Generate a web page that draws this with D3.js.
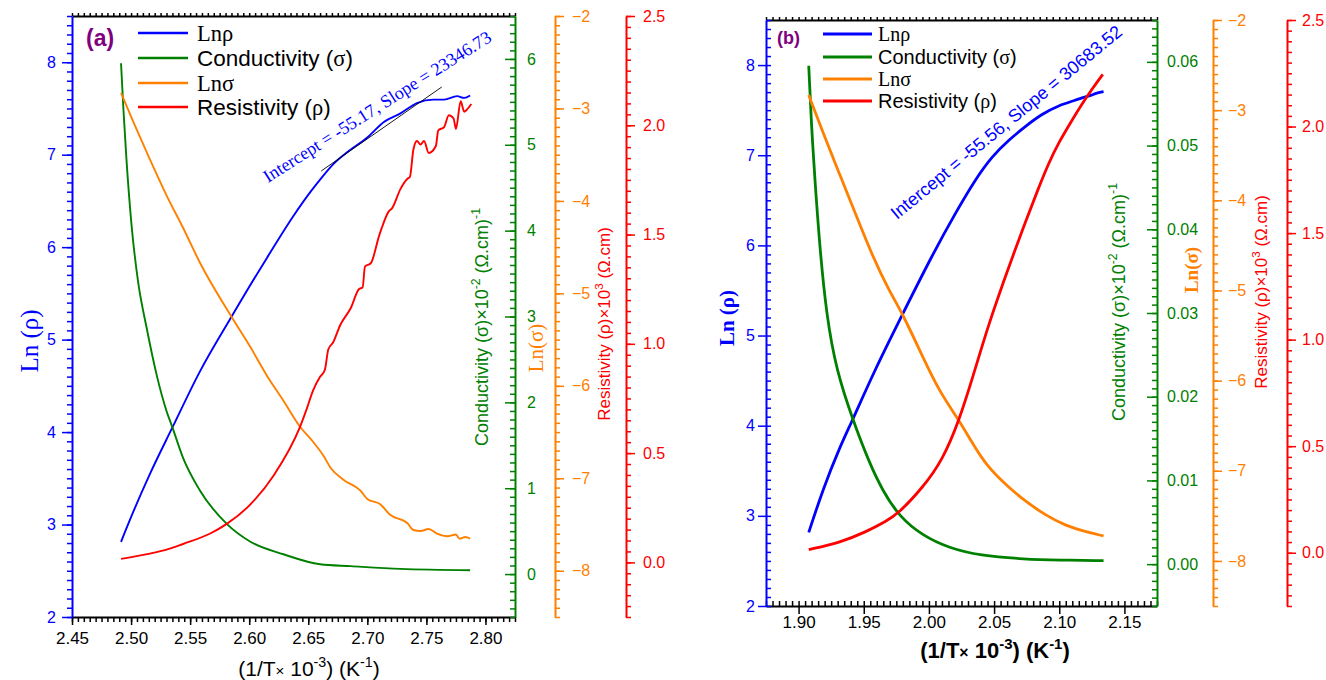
<!DOCTYPE html>
<html>
<head>
<meta charset="utf-8">
<script src="https://cdnjs.cloudflare.com/ajax/libs/d3/7.8.5/d3.min.js"></script>
<style>
  body { margin: 0; background: #fff; }
  svg { display: block; }
</style>
</head>
<body>
<svg id="chart" width="1326" height="680"></svg>
<script>
// ---------------- Panel (a) data ----------------
const aLnRhoX = [2.4915, 2.502, 2.516, 2.535, 2.558, 2.585, 2.615, 2.638, 2.652, 2.660, 2.671, 2.686, 2.700, 2.714, 2.728, 2.742, 2.756, 2.765, 2.776, 2.782, 2.787];
const aLnRhoY = [2.813, 3.142, 3.548, 4.050, 4.649, 5.247, 5.884, 6.348, 6.600, 6.730, 6.895, 7.056, 7.186, 7.354, 7.447, 7.559, 7.596, 7.596, 7.633, 7.614, 7.640];

const aSigmaX = [2.4915, 2.4935, 2.496, 2.5005, 2.506, 2.513, 2.522, 2.530, 2.535, 2.544, 2.558, 2.581, 2.601, 2.629, 2.660, 2.686, 2.728, 2.787];
const aSigmaY = [5.950, 5.420, 4.850, 4.050, 3.400, 2.880, 2.300, 1.900, 1.708, 1.354, 0.980, 0.585, 0.377, 0.231, 0.114, 0.092, 0.060, 0.044];

const aLnSigmaX = [2.4915, 2.502, 2.516, 2.530, 2.544, 2.558, 2.585, 2.601, 2.615, 2.629, 2.643, 2.652, 2.663, 2.669, 2.680, 2.694, 2.700, 2.711, 2.719, 2.734, 2.739, 2.745, 2.752, 2.759, 2.768, 2.775, 2.778, 2.783, 2.787];
const aLnSigmaY = [-2.832, -3.148, -3.553, -3.940, -4.290, -4.660, -5.253, -5.581, -5.890, -6.161, -6.442, -6.573, -6.759, -6.889, -7.018, -7.131, -7.224, -7.280, -7.392, -7.486, -7.559, -7.570, -7.548, -7.597, -7.626, -7.608, -7.652, -7.635, -7.652];

const aRhoX = [2.4915, 2.516, 2.530, 2.544, 2.567, 2.581, 2.601, 2.621, 2.643, 2.649, 2.654, 2.660, 2.664, 2.667, 2.671, 2.677, 2.686, 2.693, 2.696, 2.698, 2.703, 2.710, 2.712, 2.718, 2.721, 2.728, 2.734, 2.736, 2.739, 2.742, 2.745, 2.748, 2.752, 2.758, 2.760, 2.765, 2.769, 2.773, 2.775, 2.779, 2.782, 2.784, 2.788];
const aRhoY = [0.016, 0.040, 0.058, 0.084, 0.132, 0.176, 0.265, 0.400, 0.620, 0.707, 0.786, 0.849, 0.880, 0.975, 1.006, 1.085, 1.164, 1.251, 1.258, 1.353, 1.369, 1.495, 1.527, 1.605, 1.621, 1.708, 1.755, 1.763, 1.889, 1.928, 1.912, 1.928, 1.873, 1.905, 1.976, 1.992, 2.046, 2.031, 1.983, 2.110, 2.062, 2.070, 2.097];

// linear fit segment over the high-x part of Lnρ
const aFitX = [2.661, 2.763];
const aFitY = [6.824, 7.732];

// ---------------- Panel (b) data ----------------
const bLnRhoX = [1.9078, 1.9188, 1.9315, 1.9417, 1.957, 1.9799, 2.0028, 2.0207, 2.036, 2.0486, 2.0614, 2.0742, 2.0868, 2.0996, 2.1124, 2.120, 2.125, 2.1276, 2.134];
const bLnRhoY = [2.816, 3.300, 3.760, 4.070, 4.574, 5.241, 5.900, 6.368, 6.740, 6.990, 7.170, 7.323, 7.458, 7.553, 7.610, 7.648, 7.667, 7.686, 7.705];

const bSigmaX = [1.9078, 1.9099, 1.9124, 1.9162, 1.9214, 1.929, 1.9417, 1.9545, 1.9646, 1.9774, 1.9952, 2.0156, 2.0385, 2.0742, 2.0996, 2.134];
const bSigmaY = [0.05953, 0.05233, 0.04617, 0.03794, 0.02971, 0.02313, 0.01717, 0.01202, 0.00874, 0.00566, 0.00339, 0.00192, 0.00103, 0.00058, 0.00049, 0.00041];

const bLnSigmaX = [1.9078, 1.9188, 1.9315, 1.9443, 1.957, 1.9697, 1.9799, 1.9952, 2.0079, 2.0232, 2.0308, 2.0436, 2.0614, 2.0742, 2.0894, 2.1047, 2.120, 2.134];
const bLnSigmaY = [-2.833, -3.253, -3.712, -4.170, -4.629, -5.011, -5.259, -5.736, -6.118, -6.443, -6.630, -6.940, -7.188, -7.340, -7.493, -7.608, -7.676, -7.723];

const bRhoX = [1.9078, 1.9315, 1.9519, 1.9672, 1.9762, 1.9952, 2.0105, 2.0232, 2.0334, 2.041, 2.0486, 2.0563, 2.0639, 2.0742, 2.0843, 2.092, 2.0996, 2.1098, 2.1174, 2.125, 2.1334];
const bRhoY = [0.0148, 0.047, 0.098, 0.148, 0.182, 0.305, 0.435, 0.621, 0.820, 0.975, 1.120, 1.255, 1.385, 1.555, 1.715, 1.830, 1.925, 2.030, 2.105, 2.175, 2.245];

// ---------------- Tick values ----------------
const aXTicks = [2.45, 2.50, 2.55, 2.60, 2.65, 2.70, 2.75, 2.80];
const bXTicks = [1.90, 1.95, 2.00, 2.05, 2.10, 2.15];
const lnTicks = [2, 3, 4, 5, 6, 7, 8];
const aSigmaTicks = [0, 1, 2, 3, 4, 5, 6];
const bSigmaTicks = [0.00, 0.01, 0.02, 0.03, 0.04, 0.05, 0.06];
const lnSigmaTicks = [-8, -7, -6, -5, -4, -3, -2];
const rhoTicks = [0.0, 0.5, 1.0, 1.5, 2.0, 2.5];

const legendLabels = [
  [{ t: "Ln", serif: true }, { t: "ρ", serif: true }],
  [{ t: "Conductivity (" }, { t: "σ", serif: true }, { t: ")" }],
  [{ t: "Ln", serif: true }, { t: "σ", serif: true }],
  [{ t: "Resistivity (" }, { t: "ρ", serif: true }, { t: ")" }]
];

// ---------------- Styling ----------------
const SANS = "'Liberation Sans', Arial, Helvetica, sans-serif";
const SERIF = "'Liberation Serif', 'Times New Roman', Times, serif";
const COL = { blue: "#0000ff", green: "#008000", orange: "#ff8000", red: "#ff0000", purple: "#800080" };

const svg = d3.select("#chart");

function minorRange(lo, hi, step) {
  const n = Math.round((hi - lo) / step);
  return d3.range(n + 1).map(i => +(lo + i * step).toFixed(6));
}

// text built from runs (serif glyphs, superscripts, small signs)
function rich(g, parts, o) {
  const t = g.append("text")
    .attr("transform", `translate(${o.x},${o.y}) rotate(${o.rotate || 0})`)
    .attr("text-anchor", o.anchor || "start")
    .attr("fill", o.color)
    .attr("font-size", o.size)
    .attr("font-weight", o.weight || "normal")
    .attr("font-family", o.family || SANS);
  let shift = 0;
  parts.forEach(p => {
    const s = t.append("tspan").text(p.t);
    if (p.serif) s.attr("font-family", SERIF);
    if (p.sup) s.attr("font-size", o.size * 0.68);
    if (p.small) s.attr("font-size", o.size * 0.72);
    const target = p.sup ? -0.42 * o.size : 0;
    if (target !== shift) { s.attr("dy", target - shift); shift = target; }
  });
  return t;
}

function styleAxis(a, color, fs, domainW, keepDomain) {
  a.attr("color", color).attr("font-family", SANS).attr("font-size", fs);
  if (keepDomain) a.select(".domain").attr("stroke-width", domainW);
  else a.select(".domain").remove();
  a.selectAll(".tick line").attr("stroke-width", 1.5);
  return a;
}

function drawPanel(P) {
  const g = svg.append("g");
  const x = d3.scaleLinear().domain(P.xDomain).range([P.left, P.right]);
  const yLn = d3.scaleLinear().domain([2, 8.5]).range([P.bottom, P.top]);
  const ySig = d3.scaleLinear().domain(P.sigmaDomain).range([P.bottom, P.top]);
  const yLnSig = d3.scaleLinear().domain([-8.5, -2]).range([P.bottom, P.top]);
  const yRho = d3.scaleLinear().domain([-0.25, 2.5]).range([P.bottom, P.top]);
  const YFS = 16, XFS = 17;

  // top frame line with small ticks
  styleAxis(g.append("g").attr("transform", `translate(0,${P.top})`)
    .call(d3.axisTop(x).tickValues(minorRange(P.xDomain[0], P.xDomain[1], 0.005)).tickSizeInner(3).tickSizeOuter(0).tickFormat("")),
    "#000", XFS, 2, true);

  // bottom axis
  styleAxis(g.append("g").attr("transform", `translate(0,${P.bottom})`)
    .call(d3.axisBottom(x).tickValues(minorRange(P.xDomain[0], P.xDomain[1], 0.005)).tickSizeInner(P.xMinorLen).tickSizeOuter(0).tickFormat("")),
    "#000", XFS, 2, false);
  styleAxis(g.append("g").attr("transform", `translate(0,${P.bottom})`)
    .call(d3.axisBottom(x).tickValues(P.xTicks).tickSizeInner(8).tickSizeOuter(0).tickPadding(P.xPad).tickFormat(d3.format(".2f"))),
    "#000", XFS, 2, true);

  // left Ln(ρ) axis
  styleAxis(g.append("g").attr("transform", `translate(${P.left},0)`)
    .call(d3.axisLeft(yLn).tickValues(minorRange(2, 8.5, 0.1)).tickSizeInner(P.leftMinorLen).tickSizeOuter(0).tickFormat("")),
    COL.blue, YFS, 2, false);
  styleAxis(g.append("g").attr("transform", `translate(${P.left},0)`)
    .call(d3.axisLeft(yLn).tickValues(lnTicks).tickSizeInner(P.leftMajorLen).tickSizeOuter(0).tickPadding(P.leftPad).tickFormat(d3.format("d"))),
    COL.blue, YFS, 2, true);

  // conductivity axis on the right frame (ticks inward, labels outside)
  styleAxis(g.append("g").attr("transform", `translate(${P.right},0)`)
    .call(d3.axisRight(ySig).tickValues(minorRange(P.sigmaDomain[0], P.sigmaDomain[1], P.sigmaMinor)).tickSizeInner(-5).tickSizeOuter(0).tickFormat("")),
    COL.green, YFS, 2, false);
  styleAxis(g.append("g").attr("transform", `translate(${P.right},0)`)
    .call(d3.axisRight(ySig).tickValues(P.sigmaTicks).tickSizeInner(-10).tickSizeOuter(0).tickPadding(P.sigmaPad).tickFormat(d3.format(P.sigmaFmt))),
    COL.green, YFS, 2, true);

  // Ln(σ) axis
  styleAxis(g.append("g").attr("transform", `translate(${P.orangeX},0)`)
    .call(d3.axisRight(yLnSig).tickValues(minorRange(-8.5, -2, 0.1)).tickSizeInner(5).tickSizeOuter(0).tickFormat("")),
    COL.orange, YFS, 2, false);
  styleAxis(g.append("g").attr("transform", `translate(${P.orangeX},0)`)
    .call(d3.axisRight(yLnSig).tickValues(lnSigmaTicks).tickSizeInner(9).tickSizeOuter(0).tickPadding(P.sidePad).tickFormat(d3.format("d"))),
    COL.orange, YFS, 2, true);

  // resistivity axis
  styleAxis(g.append("g").attr("transform", `translate(${P.redX},0)`)
    .call(d3.axisRight(yRho).tickValues(minorRange(-0.25, 2.5, 0.05)).tickSizeInner(5).tickSizeOuter(0).tickFormat("")),
    COL.red, YFS, 2, false);
  styleAxis(g.append("g").attr("transform", `translate(${P.redX},0)`)
    .call(d3.axisRight(yRho).tickValues(rhoTicks).tickSizeInner(9).tickSizeOuter(0).tickPadding(P.sidePad).tickFormat(d3.format(".1f"))),
    COL.red, YFS, 2, true);

  // series
  const series = [
    { X: P.lnRhoX, Y: P.lnRhoY, y: yLn, c: COL.blue },
    { X: P.sigmaX, Y: P.sigmaY, y: ySig, c: COL.green },
    { X: P.lnSigmaX, Y: P.lnSigmaY, y: yLnSig, c: COL.orange },
    { X: P.rhoX, Y: P.rhoY, y: yRho, c: COL.red }
  ];
  series.forEach(s => {
    const pts = s.X.map((v, i) => [v, s.Y[i]]);
    g.append("path")
      .attr("d", d3.line().x(d => x(d[0])).y(d => s.y(d[1])).curve(P.curve)(pts))
      .attr("fill", "none").attr("stroke", s.c).attr("stroke-width", P.lineW)
      .attr("stroke-linejoin", "round").attr("stroke-linecap", "butt");
  });

  if (P.fitX) {
    g.append("line")
      .attr("x1", x(P.fitX[0])).attr("y1", yLn(P.fitY[0]))
      .attr("x2", x(P.fitX[1])).attr("y2", yLn(P.fitY[1]))
      .attr("stroke", "#000").attr("stroke-width", 0.9);
  }

  // legend
  legendLabels.forEach((parts, i) => {
    const ly = P.legendY[i];
    g.append("line").attr("x1", P.legendX0).attr("x2", P.legendX1)
      .attr("y1", ly).attr("y2", ly)
      .attr("stroke", [COL.blue, COL.green, COL.orange, COL.red][i])
      .attr("stroke-width", P.lineW + 0.4);
    rich(g, parts, { x: P.legendTextX, y: ly + P.legendSize * 0.36, size: P.legendSize, color: "#000" });
  });

  // panel tag
  g.append("text").attr("x", P.tagX).attr("y", P.tagY)
    .attr("font-family", SANS).attr("font-weight", "bold").attr("font-size", P.tagSize)
    .attr("fill", COL.purple).text(P.tag);

  // fit annotation
  rich(g, [{ t: P.note }], { x: P.noteX, y: P.noteY, rotate: P.noteAngle, size: P.noteSize, color: COL.blue, family: P.noteFamily });

  // axis titles
  rich(g, [{ t: "Ln (ρ)" }], { x: P.lnTitleX, y: P.lnTitleY, rotate: -90, anchor: "middle", size: P.lnTitleSize, color: COL.blue, family: SERIF, weight: P.titleWeight });
  rich(g, [{ t: "Conductivity (σ)×10" }, { t: "-2", sup: true }, { t: " (Ω.cm)" }, { t: "-1", sup: true }],
    { x: P.sigTitleX, y: P.sigTitleY, rotate: -90, anchor: "middle", size: 18, color: COL.green });
  rich(g, [{ t: "Ln(σ)" }], { x: P.lnSigTitleX, y: P.lnSigTitleY, rotate: -90, anchor: "middle", size: P.lnSigTitleSize, color: COL.orange, family: SERIF, weight: P.titleWeight });
  rich(g, [{ t: "Resistivity (ρ)×10" }, { t: "3", sup: true }, { t: " (Ω.cm)" }],
    { x: P.rhoTitleX, y: P.rhoTitleY, rotate: -90, anchor: "middle", size: 17, color: COL.red });
  rich(g, [{ t: "(1/T" }, { t: "×", small: true }, { t: " 10" }, { t: "-3", sup: true }, { t: ") (K" }, { t: "-1", sup: true }, { t: ")" }],
    { x: P.xTitleX, y: P.xTitleY, anchor: "middle", size: P.xTitleSize, color: "#000", weight: P.titleWeight });
}

drawPanel({
  left: 72, right: 515, top: 16, bottom: 617,
  xDomain: [2.45, 2.825], xTicks: aXTicks, xMinorLen: 5, xPad: 7,
  leftMajorLen: 10, leftMinorLen: 5, leftPad: 6,
  sigmaDomain: [-0.5, 6.5], sigmaTicks: aSigmaTicks, sigmaMinor: 0.1, sigmaFmt: "d", sigmaPad: 12,
  orangeX: 555, redX: 626, sidePad: 8,
  lnRhoX: aLnRhoX, lnRhoY: aLnRhoY, sigmaX: aSigmaX, sigmaY: aSigmaY,
  lnSigmaX: aLnSigmaX, lnSigmaY: aLnSigmaY, rhoX: aRhoX, rhoY: aRhoY,
  fitX: aFitX, fitY: aFitY, curve: d3.curveMonotoneX, lineW: 1.9,
  legendX0: 138, legendX1: 188, legendTextX: 197, legendY: [33, 58, 83, 107], legendSize: 22.5,
  tag: "(a)", tagX: 86, tagY: 46, tagSize: 23,
  note: "Intercept = -55.17, Slope = 23346.73", noteX: 268, noteY: 183, noteAngle: -32.4, noteSize: 18, noteFamily: SERIF,
  lnTitleX: 38, lnTitleY: 341, lnTitleSize: 25, titleWeight: "normal",
  sigTitleX: 488, sigTitleY: 327, lnSigTitleX: 543, lnSigTitleY: 348, lnSigTitleSize: 21,
  rhoTitleX: 610, rhoTitleY: 324, xTitleX: 309, xTitleY: 676, xTitleSize: 21
});

drawPanel({
  left: 766, right: 1157, top: 20, bottom: 606,
  xDomain: [1.875, 2.175], xTicks: bXTicks, xMinorLen: -5, xPad: 2,
  leftMajorLen: 8, leftMinorLen: -5, leftPad: 3,
  sigmaDomain: [-0.005, 0.065], sigmaTicks: bSigmaTicks, sigmaMinor: 0.001, sigmaFmt: ".2f", sigmaPad: 10,
  orangeX: 1213, redX: 1287, sidePad: 6,
  lnRhoX: bLnRhoX, lnRhoY: bLnRhoY, sigmaX: bSigmaX, sigmaY: bSigmaY,
  lnSigmaX: bLnSigmaX, lnSigmaY: bLnSigmaY, rhoX: bRhoX, rhoY: bRhoY,
  fitX: null, curve: d3.curveBasis, lineW: 2.8,
  legendX0: 823, legendX1: 872, legendTextX: 878, legendY: [34, 57, 79, 101], legendSize: 20,
  tag: "(b)", tagX: 777, tagY: 44, tagSize: 18,
  note: "Intercept = -55.56, Slope = 30683.52", noteX: 897, noteY: 220, noteAngle: -39.4, noteSize: 18, noteFamily: SANS,
  lnTitleX: 734, lnTitleY: 318, lnTitleSize: 21, titleWeight: "bold",
  sigTitleX: 1125, sigTitleY: 302, lnSigTitleX: 1198, lnSigTitleY: 270, lnSigTitleSize: 19,
  rhoTitleX: 1267, rhoTitleY: 292, xTitleX: 995, xTitleY: 658, xTitleSize: 22
});
</script>
</body>
</html>
